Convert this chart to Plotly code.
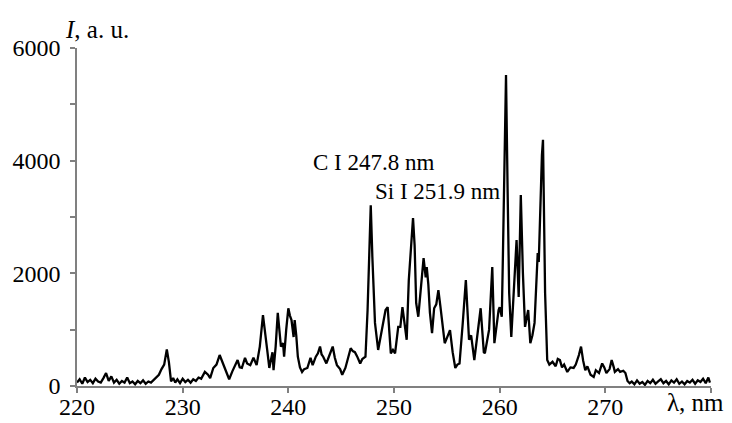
import plotly.graph_objects as go

wavelength_nm = [
    220.0, 220.25, 220.5, 220.75, 221.0, 221.25, 221.5, 221.75, 222.0, 222.25,
    222.5, 222.75, 223.0, 223.25, 223.5, 223.75, 224.0, 224.25, 224.5, 224.75,
    225.0, 225.25, 225.5, 225.75, 226.0, 226.25, 226.5, 226.75, 227.0, 227.25,
    227.5, 227.75, 228.0, 228.25, 228.5, 228.7, 228.9, 229.1, 229.3, 229.5,
    229.75, 230.0, 230.25, 230.5, 230.75, 231.0, 231.25, 231.5, 231.75, 232.1,
    232.4, 232.6, 232.9, 233.2, 233.5, 233.8, 234.1, 234.4, 234.7, 235.0,
    235.2, 235.4, 235.6, 235.9, 236.1, 236.4, 236.7, 237.0, 237.3, 237.6,
    237.8, 238.0, 238.2, 238.5, 238.6, 238.8, 239.0, 239.15, 239.3, 239.5,
    239.6, 239.8, 240.0, 240.15, 240.3, 240.5, 240.6, 240.75, 240.9, 241.1,
    241.3, 241.5, 241.8, 242.1, 242.3, 242.6, 242.8, 243.0, 243.15, 243.3,
    243.6, 243.9, 244.2, 244.4, 244.6, 244.9, 245.1, 245.4, 245.7, 245.9,
    246.1, 246.3, 246.5, 246.8, 247.0, 247.3, 247.5, 247.65, 247.8, 247.95,
    248.2, 248.5, 248.8, 249.0, 249.2, 249.4, 249.55, 249.7, 249.9, 250.1,
    250.4, 250.6, 250.8, 251.0, 251.2, 251.4, 251.6, 251.8, 251.95, 252.1,
    252.3, 252.5, 252.8, 253.0, 253.1, 253.25, 253.4, 253.6, 253.8, 254.0,
    254.2, 254.4, 254.6, 254.8, 255.0, 255.3, 255.55, 255.8, 256.0, 256.2,
    256.5, 256.8, 257.1, 257.3, 257.6, 257.9, 258.2, 258.5, 258.6, 259.0,
    259.3, 259.5, 259.7, 259.9, 260.0, 260.2, 260.3, 260.45, 260.6, 260.75,
    260.9, 261.1, 261.3, 261.6, 261.8, 262.0, 262.2, 262.4, 262.55, 262.7,
    262.9, 263.1, 263.3, 263.5, 263.6, 263.7, 263.8, 264.0, 264.1, 264.2,
    264.3, 264.5, 264.7, 265.0, 265.3, 265.5, 265.7, 265.9, 266.1, 266.4,
    266.7, 267.0, 267.2, 267.5, 267.7, 267.9, 268.1, 268.3, 268.6, 268.9,
    269.1, 269.4, 269.7, 269.9, 270.1, 270.4, 270.6, 270.8, 270.9, 271.2,
    271.4, 271.7, 271.9, 272.1, 272.3, 272.5, 272.75, 273.0, 273.25, 273.5,
    273.75, 274.0, 274.25, 274.5, 274.75, 275.0, 275.25, 275.5, 275.75, 276.0,
    276.25, 276.5, 276.75, 277.0, 277.25, 277.5, 277.75, 278.0, 278.25, 278.5,
    278.75, 279.0, 279.25, 279.5, 279.75, 279.9,
]

intensity_au = [
    60, 120, 40, 150, 70, 110, 50, 130, 80, 60,
    140, 230, 90, 170, 60, 110, 40, 90, 60, 150,
    50, 80, 30, 90, 50, 100, 40, 80, 60, 110,
    150, 200, 300, 380, 650, 420, 80, 140, 60, 120,
    50, 130, 70, 110, 60, 120, 90, 150, 130, 250,
    200, 140, 320, 380, 550, 400, 280, 120, 260, 380,
    460, 330, 320, 500, 400, 370, 500, 370, 700, 1260,
    900, 640, 320, 600, 280, 700, 1300, 1000, 700, 760,
    520, 1000, 1380, 1250, 1170, 870, 1170, 900, 520, 330,
    250, 300, 320, 500, 370, 520, 580, 700, 560, 520,
    400, 550, 700, 500, 370, 300, 200, 320, 560, 670,
    620, 600, 530, 400, 480, 520, 1350, 2400, 3210, 2300,
    1120, 640, 940, 1100, 1350, 1400, 900, 580, 640, 580,
    1050, 1050, 1400, 1100, 820, 1880, 2400, 2980, 2500, 1470,
    1230, 1600, 2270, 1930, 2110, 1800, 1300, 940, 1380, 1450,
    1700, 1400, 1050, 760, 850, 990, 600, 320, 380, 400,
    1100, 1880, 820, 900, 460, 900, 1380, 600, 580, 1000,
    2110, 760, 1100, 1350, 1400, 1230, 2240, 4000, 5520, 3500,
    1650, 870, 1600, 2590, 1580, 3390, 2000, 1050, 1200, 1350,
    760, 900, 1120, 2000, 2360, 2200, 2950, 4100, 4370, 3200,
    1650, 460, 380, 430, 350, 480, 460, 330, 380, 250,
    330, 320, 380, 550, 700, 450, 280, 350, 200, 160,
    280, 230, 400, 330, 230, 300, 460, 330, 250, 300,
    250, 270, 230, 90, 50, 80, 30, 100, 40, 70,
    20, 90, 50, 110, 40, 80, 120, 50, 90, 30,
    100, 60, 120, 40, 80, 30, 90, 60, 110, 40,
    100, 70, 130, 50, 150, 60,
]

x_tick_values = [220, 230, 240, 250, 260, 270, 280]
x_tick_labels = ["220", "230", "240", "250", "260", "270", ""]
x_axis_label = "λ, nm"
y_tick_values = [0, 1000, 2000, 3000, 4000, 5000, 6000]
y_tick_labels = ["0", "", "2000", "", "4000", "", "6000"]
y_axis_label = "<i>I</i>, a. u."

line_labels = ["C I 247.8 nm", "Si I 251.9 nm"]
label_x = [248.1, 254.1]
label_y = [3960, 3460]

FONT = "Liberation Serif"
AXIS_COLOR = "#808080"

fig = go.Figure()
fig.add_trace(go.Scatter(
    x=wavelength_nm, y=intensity_au, mode="lines",
    line=dict(color="black", width=2.3), showlegend=False,
))

for txt, lx, ly in zip(line_labels, label_x, label_y):
    fig.add_annotation(x=lx, y=ly, text=txt, showarrow=False,
                       xanchor="center", yanchor="middle",
                       font=dict(family=FONT, size=23, color="black"))

fig.add_annotation(xref="paper", yref="paper", x=-0.022, y=1.0,
                   text=y_axis_label, showarrow=False,
                   xanchor="left", yanchor="bottom", yshift=3,
                   font=dict(family=FONT, size=25, color="black"))

fig.add_annotation(xref="paper", yref="paper", x=1.0, y=0.0,
                   text=x_axis_label, showarrow=False,
                   xanchor="right", yanchor="middle", xshift=15, yshift=-16,
                   font=dict(family=FONT, size=25, color="black"))

# The page places the figure 8 px in from the top-left corner,
# so the figure is 8 px smaller and margins are shifted accordingly.
fig.update_layout(
    width=724, height=415,
    margin=dict(l=69, r=21, t=40, b=37, autoexpand=False),
    paper_bgcolor="white", plot_bgcolor="white",
    font=dict(family=FONT, size=23, color="black"),
    xaxis=dict(range=[220, 280], tickmode="array", tickvals=x_tick_values,
               ticktext=x_tick_labels, showgrid=False, zeroline=False,
               automargin=False, ticklabelstandoff=-7,
               showline=True, linecolor=AXIS_COLOR, linewidth=1.5,
               ticks="outside", ticklen=5, tickcolor=AXIS_COLOR, tickwidth=1.5,
               tickfont=dict(family=FONT, size=24, color="black")),
    yaxis=dict(range=[0, 6000], tickmode="array", tickvals=y_tick_values,
               ticktext=y_tick_labels, showgrid=False, zeroline=False,
               automargin=False, ticklabelstandoff=5,
               showline=True, linecolor=AXIS_COLOR, linewidth=1.5,
               ticks="outside", ticklen=5, tickcolor=AXIS_COLOR, tickwidth=1.5,
               tickfont=dict(family=FONT, size=24, color="black")),
)

fig.write_html("out.html")
